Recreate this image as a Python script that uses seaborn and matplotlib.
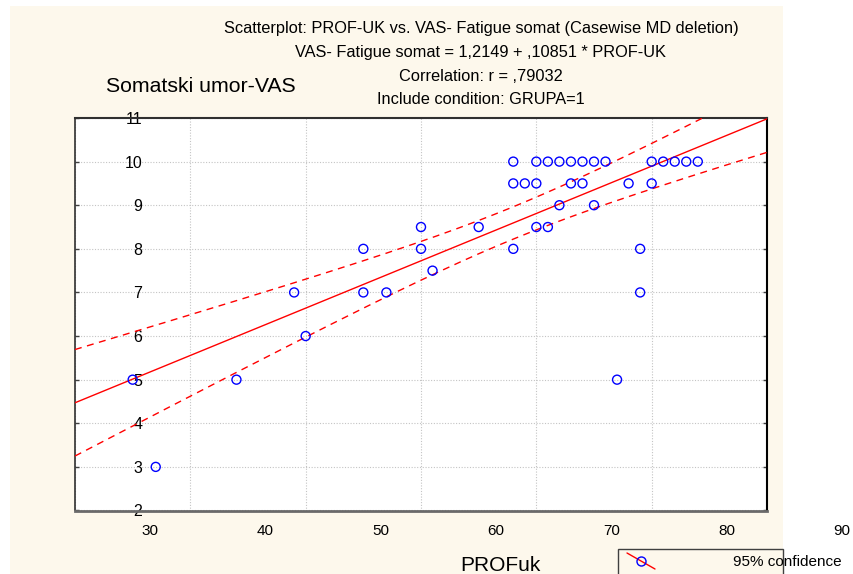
import numpy as np
import matplotlib
matplotlib.use("Agg")
import matplotlib.pyplot as plt
import seaborn as sns
from matplotlib.transforms import ScaledTranslation
from matplotlib.patches import Rectangle
from matplotlib.lines import Line2D

# PROF-UK score and somatic fatigue (VAS) for GRUPA=1
prof_uk = [35, 37, 44, 49, 50, 55, 55, 57, 60, 60, 61, 65, 68, 68, 68, 69,
           70, 70, 70, 71, 71, 72, 72, 73, 73, 74, 74, 75, 75, 76, 77, 78,
           79, 79, 80, 80, 81, 82, 83, 84]
vas_somat = [5, 3, 5, 7, 6, 8, 7, 7, 8.5, 8, 7.5, 8.5, 10, 9.5, 8, 9.5,
             10, 9.5, 8.5, 10, 8.5, 10, 9, 10, 9.5, 10, 9.5, 10, 9, 10, 5, 9.5,
             8, 7, 10, 9.5, 10, 10, 10, 10]

# regression reported by the analysis
intercept = 1.2149
slope = 0.10851
t_crit = 2.0244  # t(0.975, df=38)

x_ticks = [30, 40, 50, 60, 70, 80, 90]
y_ticks = [2, 3, 4, 5, 6, 7, 8, 9, 10, 11]

title_lines = [
    "Scatterplot: PROF-UK vs. VAS- Fatigue somat (Casewise MD deletion)",
    "VAS- Fatigue somat = 1,2149 + ,10851 * PROF-UK",
    "Correlation: r = ,79032",
    "Include condition: GRUPA=1",
]

sns.set_style("white")
plt.rcParams["font.family"] = ["Liberation Sans", "DejaVu Sans"]
plt.rcParams["text.color"] = "black"
plt.rcParams["xtick.color"] = "black"
plt.rcParams["ytick.color"] = "black"
plt.rcParams["xtick.labelcolor"] = "black"
plt.rcParams["ytick.labelcolor"] = "black"

W, H = 854, 574
fig = plt.figure(figsize=(W / 100, H / 100), dpi=100, facecolor="white")

# cream page behind the graph
fig.patches.append(Rectangle((10 / W, 0), (783 - 10) / W, (H - 6) / H,
                             transform=fig.transFigure, facecolor="#FDF8EC",
                             edgecolor="none", zorder=-5))

ax = fig.add_axes([75 / W, (H - 510.5) / H, (767 - 75) / W, (510.5 - 118) / H])
ax.set_facecolor("white")

x = np.asarray(prof_uk, dtype=float)
y = np.asarray(vas_somat, dtype=float)
n = len(x)

# fitted line and 95% confidence band for the mean
xs = np.linspace(30, 90, 300)
fit = intercept + slope * xs
resid = y - (intercept + slope * x)
s = np.sqrt(np.sum(resid ** 2) / (n - 2))
sxx = np.sum((x - x.mean()) ** 2)
half = t_crit * s * np.sqrt(1 / n + (xs - x.mean()) ** 2 / sxx)

sns.lineplot(x=xs, y=fit, color="#FF0000", lw=1.0, ax=ax, zorder=3)
sns.lineplot(x=xs, y=fit + half, color="#FF0000", lw=1.0,
             linestyle=(0, (5, 4)), ax=ax, zorder=3)
sns.lineplot(x=xs, y=fit - half, color="#FF0000", lw=1.0,
             linestyle=(0, (5, 4)), ax=ax, zorder=3)
sns.scatterplot(x=prof_uk, y=vas_somat, s=42, marker="o", facecolors="none",
                edgecolor="#0000FF", linewidth=1.0, ax=ax, zorder=4)

ax.set_xlim(30, 90)
ax.set_ylim(2, 11)
ax.set_xticks(x_ticks)
ax.set_yticks(y_ticks)
ax.set_xticklabels([str(v) for v in x_ticks], fontsize=11)
ax.set_yticklabels([str(v) for v in y_ticks], fontsize=11.5)
ax.set_xlabel("")
ax.set_ylabel("")

ax.grid(True, color="#c4c4c4", linestyle=(0, (1, 1.5)), linewidth=0.8)
ax.set_axisbelow(True)

ax.tick_params(axis="x", length=0, pad=10)
ax.tick_params(axis="y", direction="in", length=3, width=1, color="#404040",
               left=True, right=True, pad=-48.5)

# horizontal scale labels sit to the right of their grid lines
for lab in ax.get_xticklabels():
    lab.set_transform(lab.get_transform() +
                      ScaledTranslation(75 / 100, 0, fig.dpi_scale_trans))

for side, col, lw in [("left", "#303030", 1.2), ("top", "#303030", 1.5),
                      ("bottom", "#6a6a6a", 2.0), ("right", "#000000", 1.5)]:
    ax.spines[side].set_visible(True)
    ax.spines[side].set_color(col)
    ax.spines[side].set_linewidth(lw)

# header lines
for line, base in zip(title_lines, [32.7, 56.7, 80.7, 104.3]):
    fig.text(481 / W, 1 - base / H, line, ha="center", va="baseline",
             fontsize=11.8)

fig.text(106 / W, 1 - 91.7 / H, "Somatski umor-VAS", ha="left",
         va="baseline", fontsize=15.3)
fig.text(500 / W, 1 - 571 / H, "PROFuk", ha="center", va="baseline",
         fontsize=15)

# legend box
fig.patches.append(Rectangle((618 / W, -0.02), (783 - 618) / W,
                             (H - 549) / H + 0.02, transform=fig.transFigure,
                             facecolor="none", edgecolor="#404040",
                             linewidth=1.0, zorder=2))
fig.lines.append(Line2D([627 / W, 655 / W], [1 - 553 / H, 1 - 569 / H],
                        transform=fig.transFigure, color="#FF0000", lw=1.0))
fig.lines.append(Line2D([641 / W], [1 - 561 / H], transform=fig.transFigure,
                        marker="o", markersize=6.5, markerfacecolor="none",
                        markeredgecolor="#0000FF", markeredgewidth=1.0,
                        linestyle="none"))
fig.text(733 / W, 1 - 562 / H, "95% confidence", ha="left", va="center",
         fontsize=11)

fig.savefig("out.png", dpi=100, facecolor="white")
